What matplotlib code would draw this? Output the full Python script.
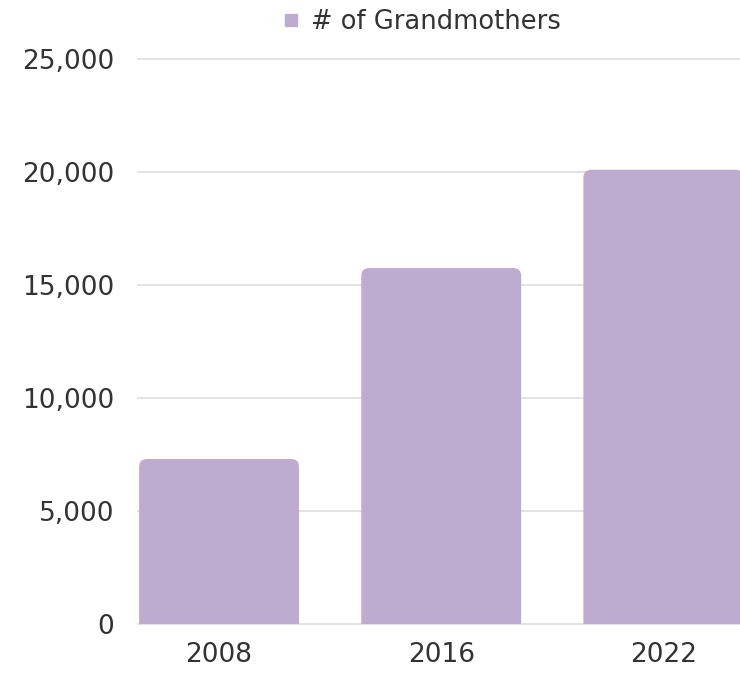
import matplotlib.pyplot as plt
from matplotlib.patches import PathPatch
from matplotlib.path import Path
from matplotlib.lines import Line2D

years = ["2008", "2016", "2022"]
grandmothers = [7300, 15750, 20100]
y_ticks = [0, 5000, 10000, 15000, 20000, 25000]

BAR_COLOR = "#bdacd0"
TEXT_COLOR = "#333333"
GRID_COLOR = "#e3e3e3"

W, H, DPI = 740, 675, 100
fig = plt.figure(figsize=(W / DPI, H / DPI), dpi=DPI)
# axes placed in pixel terms: left edge 138, top 59, bottom 624, runs to right edge
ax = fig.add_axes([138 / W, (H - 624) / H, 1 - 138 / W, (624 - 59) / H])

xlim = (-0.365, 2.345)
ylim = (0, 25000)
ax.set_xlim(*xlim)
ax.set_ylim(*ylim)

x_pos = list(range(len(years)))
bar_w = 0.72
bars = ax.bar(x_pos, grandmothers, width=bar_w, color=BAR_COLOR, zorder=2)

# swap plain rectangles for a path with rounded top corners
ax_w_px = W * (1 - 138 / W)
ax_h_px = 624 - 59
px_per_x = ax_w_px / (xlim[1] - xlim[0])
px_per_y = ax_h_px / (ylim[1] - ylim[0])
radius_px = 8
rx = radius_px / px_per_x
ry = radius_px / px_per_y
for b in bars:
    x0, w, h = b.get_x(), b.get_width(), b.get_height()
    x1 = x0 + w
    b.set_visible(False)
    verts = [(x0, 0), (x0, h - ry), (x0, h), (x0 + rx, h), (x1 - rx, h),
             (x1, h), (x1, h - ry), (x1, 0), (x0, 0)]
    codes = [Path.MOVETO, Path.LINETO, Path.CURVE3, Path.CURVE3, Path.LINETO,
             Path.CURVE3, Path.CURVE3, Path.LINETO, Path.CLOSEPOLY]
    ax.add_patch(PathPatch(Path(verts, codes), fc=BAR_COLOR, ec="none", zorder=2))

ax.set_yticks(y_ticks)
ax.set_yticklabels([f"{v:,}" for v in y_ticks])
ax.set_xticks(x_pos)
ax.set_xticklabels(years)
ax.yaxis.grid(True, color=GRID_COLOR, lw=1.4, zorder=0)
ax.set_axisbelow(True)
for gl in ax.get_ygridlines():
    gl.set_clip_on(False)
for s in ax.spines.values():
    s.set_visible(False)
ax.tick_params(axis="both", length=0, labelsize=19, colors=TEXT_COLOR)
ax.tick_params(axis="y", pad=17)
ax.tick_params(axis="x", pad=13)

handle = Line2D([], [], marker="s", ls="none", color=BAR_COLOR, markersize=9)
fig.legend([handle], ["# of Grandmothers"], loc="center",
           bbox_to_anchor=(422 / W, 1 - 22 / H), frameon=False,
           fontsize=18.5, labelcolor=TEXT_COLOR, handlelength=0.6,
           handletextpad=0.45, borderpad=0)

fig.savefig("out.png", dpi=DPI)
